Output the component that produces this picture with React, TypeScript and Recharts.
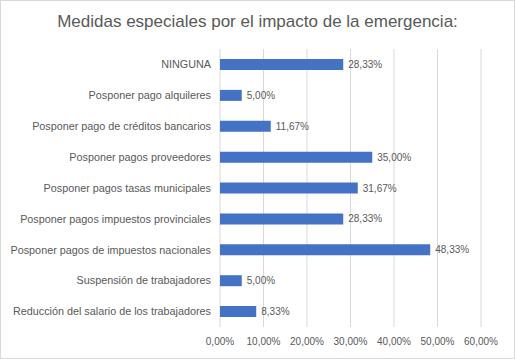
import React from "react";
import { BarChart, Bar, XAxis, YAxis, CartesianGrid, LabelList } from "recharts";

const categories = [
  "NINGUNA",
  "Posponer pago alquileres",
  "Posponer pago de créditos bancarios",
  "Posponer pagos proveedores",
  "Posponer pagos tasas municipales",
  "Posponer pagos impuestos provinciales",
  "Posponer pagos de impuestos nacionales",
  "Suspensión de trabajadores",
  "Reducción del salario de los trabajadores",
];
const values = [28.33, 5.0, 11.67, 35.0, 31.67, 28.33, 48.33, 5.0, 8.33];
const xTicks = [0, 10, 20, 30, 40, 50, 60];
const title = "Medidas especiales por el impacto de la emergencia:";

const data = categories.map((c, i) => ({ name: c, value: values[i] }));

const fmt = (v: number) => v.toFixed(2).replace(".", ",") + "%";
const FONT = "'Liberation Sans', Arial, sans-serif";

const CatTick = (props: any) => {
  const { x, y, payload } = props;
  return (
    <text
      x={x - 1}
      y={y}
      dy="0.35em"
      textAnchor="end"
      fontSize={10.8}
      fill="#595959"
      fontFamily={FONT}
    >
      {payload.value}
    </text>
  );
};

export default function App() {
  return (
    <div
      style={{
        position: "absolute",
        left: 0,
        top: 0,
        width: 515,
        height: 359,
        boxSizing: "border-box",
        border: "1px solid #d9d9d9",
        background: "#fff",
        fontFamily: FONT,
      }}
    >
      <div
        style={{
          position: "absolute",
          left: 0,
          top: 11,
          width: 513,
          textAlign: "center",
          fontSize: 17,
          color: "#595959",
          fontFamily: FONT,
        }}
      >
        {title}
      </div>
      <div style={{ position: "absolute", left: -1, top: -1 }}>
        <BarChart
          width={515}
          height={359}
          data={data}
          layout="vertical"
          margin={{ top: 49, right: 34, bottom: 0, left: 0 }}
          barCategoryGap={0}
        >
          <CartesianGrid horizontal={false} vertical={true} stroke="#d9d9d9" />
          <XAxis
            type="number"
            domain={[0, 60]}
            ticks={xTicks}
            axisLine={false}
            tickLine={false}
            tickMargin={5}
            height={32}
            interval={0}
            tickFormatter={(v: number) => fmt(v)}
            tick={{ fontSize: 10, fill: "#595959", fontFamily: FONT }}
          />
          <YAxis
            type="category"
            dataKey="name"
            width={220}
            axisLine={false}
            tickLine={false}
            interval={0}
            tick={<CatTick />}
          />
          <Bar dataKey="value" fill="#4472C4" barSize={11} isAnimationActive={false}>
            <LabelList
              dataKey="value"
              position="right"
              offset={5}
              formatter={(v: number) => fmt(v)}
              style={{ fontSize: 10, fill: "#595959", fontFamily: FONT }}
            />
          </Bar>
        </BarChart>
      </div>
    </div>
  );
}
